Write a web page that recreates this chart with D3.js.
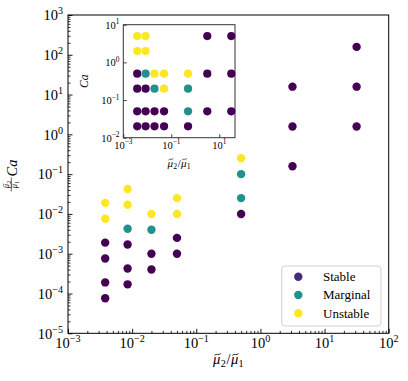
<!DOCTYPE html>
<html><head><meta charset="utf-8">
<script src="https://cdn.jsdelivr.net/npm/d3@7"></script>
<style>
html,body{margin:0;padding:0;background:#fff;}
svg{display:block;}
</style></head>
<body><svg id="c" width="408" height="381" font-family="'Liberation Serif', 'DejaVu Serif', serif"></svg>
<script>
// ---- data (mu2/mu1 ratio, Ca) ----
const stableMu = [0.0038,0.0038,0.0038,0.0038,0.0085,0.0085,0.0085,0.02,0.02,0.05,0.05,0.5,3.16,3.16,3.16,31.6,31.6,31.6];
const stableCa = [0.5,0.2,0.05,0.02,0.2,0.05,0.02,0.05,0.02,0.05,0.02,0.02,5,0.5,0.05,5,0.5,0.05];
const marginalMu = [0.0085,0.02,0.5,0.5];
const marginalCa = [0.5,0.2,0.2,0.05];
const unstableMu = [0.0038,0.0038,0.0085,0.0085,0.02,0.05,0.05,0.5];
const unstableCa = [5,2,5,2,0.5,0.5,0.2,0.5];
const categories = ["Stable","Marginal","Unstable"];
const colors = ["#440154","#21918c","#fde725"];
const legendColors = ["#472a7a","#21918c","#fde725"];
const mainXTicks = [-3,-2,-1,0,1,2];
const mainYTicks = [-5,-4,-3,-2,-1,0,1,2,3];
const insetXTicks = [-3,-1,1];
const insetYTicks = [-2,-1,0,1];

const series = [
  {name:categories[0], mu:stableMu, ca:stableCa, color:colors[0]},
  {name:categories[1], mu:marginalMu, ca:marginalCa, color:colors[1]},
  {name:categories[2], mu:unstableMu, ca:unstableCa, color:colors[2]}
];

const svg = d3.select("#c");
const M = {l:68, r:388.7, t:15, b:333.3};
const x = d3.scaleLog().domain([1e-3,1e2]).range([M.l,M.r]);
const y = d3.scaleLog().domain([1e-5,1e3]).range([M.b,M.t]);

function minors(lo,hi){const a=[];for(let e=lo;e<hi;e++)for(let k=2;k<=9;k++)a.push(k*Math.pow(10,e));return a;}
function powLabel(sel, exp, fs){
  sel.text(null);
  sel.append("tspan").text("10");
  sel.append("tspan").attr("dy", -fs*0.42).attr("font-size", fs*0.7).text(exp<0?"\u2212"+(-exp):String(exp));
}

// draws mu-tilde with subscript at (x0, baseline) in group g; returns advance width
function muTilde(g, x0, base, fs, sub){
  const t = g.append("text").attr("x",x0).attr("y",base).attr("font-size",fs).attr("font-style","italic").text("\u03BC");
  const w = t.node().getComputedTextLength();
  const cx = x0 + w*0.62, cy = base - fs*0.66, hw = fs*0.2, a = fs*0.045;
  g.append("path")
    .attr("d",`M${cx-hw},${cy+a} C${cx-hw*0.35},${cy-2.4*a} ${cx+hw*0.35},${cy+2.4*a} ${cx+hw},${cy-a}`)
    .attr("fill","none").attr("stroke","#000").attr("stroke-width",Math.max(0.5,fs*0.055)).attr("stroke-linecap","round");
  const s = g.append("text").attr("x",x0+w+fs*0.02).attr("y",base+fs*0.22).attr("font-size",fs*0.7).text(sub);
  return w + fs*0.02 + s.node().getComputedTextLength();
}
function centered(parent, cx, fn){
  const g = parent.append("g");
  const w = fn(g);
  g.attr("transform",`translate(${cx-w/2},0)`);
  return g;
}
// mu2/mu1 centered at cx
function muRatio(parent, cx, base, fs){
  return centered(parent, cx, g=>{
    let xx = 0;
    xx += muTilde(g, xx, base, fs, "2");
    const sl = g.append("text").attr("x",xx+fs*0.05).attr("y",base).attr("font-size",fs).text("/");
    xx += fs*0.05 + sl.node().getComputedTextLength() + fs*0.03;
    xx += muTilde(g, xx, base, fs, "1");
    return xx;
  });
}

// main frame
svg.append("rect").attr("x",M.l).attr("y",M.t).attr("width",M.r-M.l).attr("height",M.b-M.t)
  .attr("fill","none").attr("stroke","#000").attr("stroke-width",1);

// main ticks
const gMain = svg.append("g");
gMain.append("g").attr("transform",`translate(0,${M.b})`)
  .call(d3.axisBottom(x).tickValues(minors(-3,2)).tickSize(-2.5).tickFormat(""))
  .call(g=>{g.select(".domain").remove();g.selectAll("line").attr("stroke","#000").attr("stroke-width",0.8);});
gMain.append("g").attr("transform",`translate(0,${M.b})`)
  .call(d3.axisBottom(x).tickValues(mainXTicks.map(e=>Math.pow(10,e))).tickSize(-4.5).tickFormat(""))
  .call(g=>{g.select(".domain").remove();g.selectAll("line").attr("stroke","#000").attr("stroke-width",0.9);});
gMain.append("g").attr("transform",`translate(${M.l},0)`)
  .call(d3.axisLeft(y).tickValues(minors(-5,3)).tickSize(-2.5).tickFormat(""))
  .call(g=>{g.select(".domain").remove();g.selectAll("line").attr("stroke","#000").attr("stroke-width",0.8);});
gMain.append("g").attr("transform",`translate(${M.l},0)`)
  .call(d3.axisLeft(y).tickValues(mainYTicks.map(e=>Math.pow(10,e))).tickSize(-4.5).tickFormat(""))
  .call(g=>{g.select(".domain").remove();g.selectAll("line").attr("stroke","#000").attr("stroke-width",0.9);});

const FS = 14.5;
gMain.selectAll(".xl").data(mainXTicks).join("text")
  .attr("x",e=>x(Math.pow(10,e))).attr("y",348).attr("text-anchor","middle").attr("font-size",FS)
  .each(function(e){powLabel(d3.select(this),e,FS);});
gMain.selectAll(".yl").data(mainYTicks).join("text")
  .attr("x",63).attr("y",e=>y(Math.pow(10,e))+5.3).attr("text-anchor","end").attr("font-size",FS)
  .each(function(e){powLabel(d3.select(this),e,FS);});

// x label
muRatio(svg, (M.l+M.r)/2, 364, FS);

// y label (fraction + Ca)
const yl = svg.append("g").attr("transform","translate(0,177) rotate(-90)");
centered(yl, -7.5, g=>muTilde(g, 0, 9.3, 8.5, "2"));
yl.append("line").attr("x1",-14.5).attr("x2",-0.5).attr("y1",11.3).attr("y2",11.3).attr("stroke","#000").attr("stroke-width",0.6);
centered(yl, -7.5, g=>muTilde(g, 0, 17.3, 8.5, "1"));
yl.append("text").attr("x",0.5).attr("y",17).attr("font-size",FS).attr("font-style","italic").text("Ca");

// main points
series.forEach(s=>{
  svg.append("g").selectAll("circle").data(s.mu.map((m,i)=>({m, c:s.ca[i]}))).join("circle")
    .attr("cx",d=>x(d.m)).attr("cy",d=>y(d.m*d.c)).attr("r",4.2).attr("fill",s.color);
});

// legend
const lg = svg.append("g");
lg.append("rect").attr("x",281.7).attr("y",266).attr("width",99.3).attr("height",60).attr("rx",3)
  .attr("fill","#fff").attr("fill-opacity",0.8).attr("stroke","#d0d0d0").attr("stroke-width",1);
categories.forEach((c,i)=>{
  const yy = 276.7 + i*18.3;
  lg.append("circle").attr("cx",298.3).attr("cy",yy).attr("r",4.2).attr("fill",legendColors[i]);
  lg.append("text").attr("x",323).attr("y",yy+4.3).attr("font-size",13).text(c);
});

// inset
const I = {l:123.3, r:235, t:24.7, b:137.7};
const xi = d3.scaleLog().domain([1e-3, Math.pow(10,1.655)]).range([I.l,I.r]);
const yi = d3.scaleLog().domain([1e-2,1e1]).range([I.b,I.t]);
svg.append("rect").attr("x",I.l).attr("y",I.t).attr("width",I.r-I.l).attr("height",I.b-I.t)
  .attr("fill","#fff").attr("stroke","#333").attr("stroke-width",1);
const gIn = svg.append("g");
gIn.append("g").attr("transform",`translate(0,${I.b})`)
  .call(d3.axisBottom(xi).tickValues(insetXTicks.map(e=>Math.pow(10,e))).tickSize(-3.5).tickFormat(""))
  .call(g=>{g.select(".domain").remove();g.selectAll("line").attr("stroke","#333").attr("stroke-width",0.9);});
gIn.append("g").attr("transform",`translate(${I.l},0)`)
  .call(d3.axisLeft(yi).tickValues(insetYTicks.map(e=>Math.pow(10,e))).tickSize(-3.5).tickFormat(""))
  .call(g=>{g.select(".domain").remove();g.selectAll("line").attr("stroke","#333").attr("stroke-width",0.9);});
const FSi = 10.5;
gIn.selectAll(".xl").data(insetXTicks).join("text")
  .attr("x",e=>xi(Math.pow(10,e))).attr("y",148.5).attr("text-anchor","middle").attr("font-size",FSi)
  .each(function(e){powLabel(d3.select(this),e,FSi);});
gIn.selectAll(".yl").data(insetYTicks).join("text")
  .attr("x",119.5).attr("y",e=>yi(Math.pow(10,e))+4).attr("text-anchor","end").attr("font-size",FSi)
  .each(function(e){powLabel(d3.select(this),e,FSi);});
muRatio(svg, (I.l+I.r)/2, 166.5, 11);
svg.append("text").attr("transform",`translate(88,${(I.t+I.b)/2}) rotate(-90)`).attr("text-anchor","middle")
  .attr("font-size",11.5).attr("font-style","italic").text("Ca");
series.forEach(s=>{
  svg.append("g").selectAll("circle").data(s.mu.map((m,i)=>({m, c:s.ca[i]}))).join("circle")
    .attr("cx",d=>xi(d.m)).attr("cy",d=>yi(d.c)).attr("r",4.1).attr("fill",s.color);
});
</script></body></html>
